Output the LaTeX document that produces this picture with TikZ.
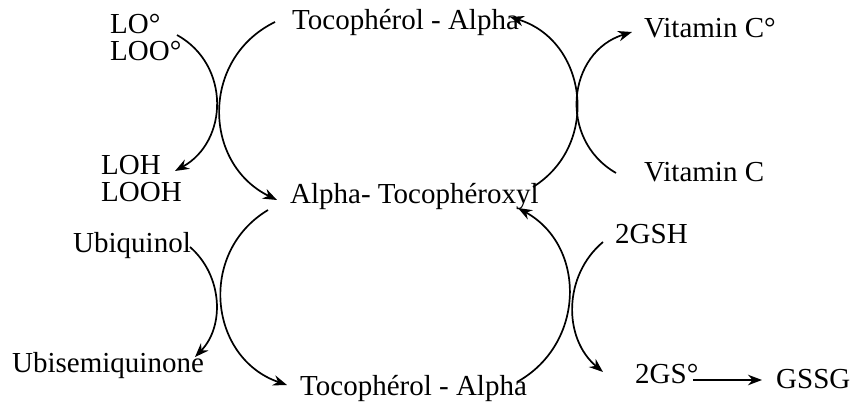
\documentclass[tikz,border=0pt]{standalone}
\usepackage{fontspec}
\setmainfont{Liberation Serif}
\usetikzlibrary{arrows.meta}
\begin{document}
\begin{tikzpicture}[x=1pt,y=1pt,
  lbl/.style={anchor=base west,inner sep=0pt,font=\fontsize{29}{31}\selectfont},
  arr/.style={line width=1.7pt,-{Stealth[length=14pt,width=10.5pt]}}]
\useasboundingbox (0,0) rectangle (851,-406);
% labels
\node[lbl] (lo)   at (110,-34)  {LO°};
\node[lbl] (loo)  at (110,-61)  {LOO°};
\node[lbl] (loh)  at (101,-175) {LOH};
\node[lbl] (looh) at (101,-202) {LOOH};
\node[lbl] (tocA) at (292,-30)  {Tocophérol - Alpha};
\node[lbl] (tocx) at (290,-204) {Alpha- Tocophéroxyl};
\node[lbl] (vcr)  at (644,-38)  {Vitamin C°};
\node[lbl] (vc)   at (644,-182) {Vitamin C};
\node[lbl] (ubq)  at (73,-252)  {Ubiquinol};
\node[lbl] (ubs)  at (12,-372)  {Ubisemiquinone};
\node[lbl] (tocB) at (300,-395) {Tocophérol - Alpha};
\node[lbl] (gsh)  at (615,-243) {2GSH};
\node[lbl] (gsr)  at (635,-383) {2GS°};
\node[lbl] (gssg) at (776,-388) {GSSG};
% arcs
\draw[arr] ([shift={(67,26)}]loo.base west) to[out=-29,in=29,looseness=1.15] ([shift={(74,4)}]loh.base west);
\draw[arr] ([shift={(-17,8)}]tocA.base west) to[out=-154,in=154,looseness=1.19] ([shift={(-13,4)}]tocx.base west);
\draw[arr] ([shift={(243,17)}]tocx.base west) to[out=32,in=-17,looseness=1.2] ([shift={(218,13)}]tocA.base west);
\draw[arr] ([shift={(-28,9)}]vc.base west) to[out=150,in=-163,looseness=1.22] ([shift={(-12,6)}]vcr.base west);
\draw[arr] ([shift={(117,5)}]ubq.base west) to[out=-41,in=46,looseness=1.0] ([shift={(183,15)}]ubs.base west);
\draw[arr] ([shift={(-22,-6)}]tocx.base west) to[out=-149,in=161,looseness=1.2] ([shift={(-13,10)}]tocB.base west);
\draw[arr] ([shift={(217,13)}]tocB.base west) to[out=29,in=-29,looseness=1.15] ([shift={(228,-4)}]tocx.base west);
\draw[arr] ([shift={(-12,1)}]gsh.base west) to[out=-140,in=140,looseness=1.03] ([shift={(-32,11)}]gsr.base west);
\draw[arr] ([shift={(58,3)}]gsr.base west) -- ([shift={(-14,8)}]gssg.base west);
\end{tikzpicture}
\end{document}
